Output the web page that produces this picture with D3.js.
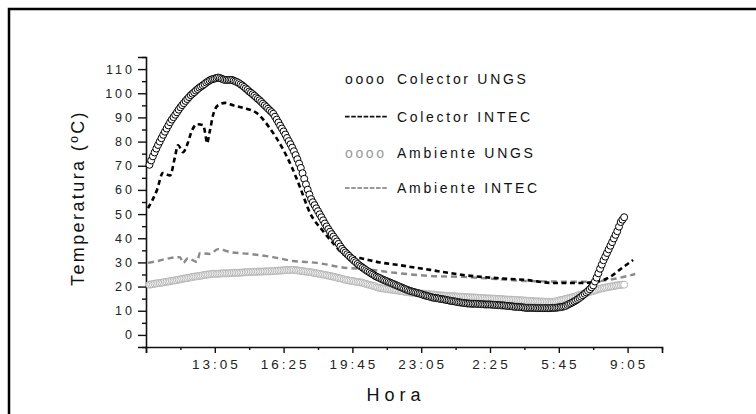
<!DOCTYPE html>
<html><head><meta charset="utf-8">
<script src="https://cdn.jsdelivr.net/npm/d3@7"></script>
<style>
html,body{margin:0;padding:0;background:#fff;}
svg{display:block;font-family:"Liberation Sans",Arial,sans-serif;}
</style></head>
<body>
<svg id="chart" width="756" height="414"></svg>
<script>
// ---------- DATA ----------
const axisStartClock = "9:45";
const axisEndClock = "10:45";
const xTickLabels = ["13:05","16:25","19:45","23:05","2:25","5:45","9:05"];
const yTickValues = [0,10,20,30,40,50,60,70,80,90,100,110];

// UNGS logger: samples every 5 min starting at 9:55
const ungsFirstSample = "9:55";
const ungsStepMin = 5;
const colectorUNGS = [
70.4,72.2,73.9,75.5,77.1,78.6,80,81.4,82.8,84.1,85.4,86.7,88,89.1,90.1,91.1,92.1,93.2,94.2,95.1,
95.9,96.8,97.6,98.4,99.2,99.8,100.4,101.1,101.7,102.3,102.8,103.3,103.8,104.4,104.9,105.3,105.7,105.9,106.1,106.3,
106.5,106.3,106,105.7,105.5,105.5,105.5,105.5,105.5,105.2,104.9,104.6,104.2,103.7,103.2,102.6,102,101.4,100.7,100.2,
99.6,99,98.3,97.7,97.1,96.4,95.7,95,94.3,93.6,92.9,92.2,91.5,90.3,89.1,87.9,86.6,85.4,84.2,82.9,
81.5,80.2,78.9,77.5,76,74.4,72.7,70.9,69.1,66.9,64.6,62.3,60.1,58.1,56.2,54.9,53.7,52.4,51.2,49.9,
48.7,47.4,46.1,44.9,43.8,42.7,41.7,40.7,39.7,38.7,37.7,36.6,35.6,34.8,34.1,33.4,32.7,32,31.4,30.7,
30.1,29.4,28.8,28.3,27.8,27.3,26.8,26.3,25.9,25.4,25,24.5,24.1,23.8,23.5,23.1,22.8,22.5,22.2,21.9,
21.6,21.3,21,20.7,20.4,20.1,19.8,19.5,19.2,18.9,18.6,18.3,18.1,17.9,17.7,17.5,17.3,17.1,16.9,16.6,
16.4,16.2,16,15.8,15.6,15.4,15.3,15.2,15.1,14.9,14.8,14.7,14.6,14.4,14.3,14.1,14,13.9,13.8,13.6,
13.5,13.4,13.3,13.2,13.1,13,13,12.9,12.9,12.9,12.9,12.8,12.8,12.7,12.7,12.6,12.6,12.6,12.6,12.5,
12.5,12.4,12.4,12.3,12.3,12.2,12.2,12.1,12,11.9,11.9,11.8,11.7,11.6,11.6,11.5,11.5,11.4,11.3,11.2,
11.2,11.2,11.2,11.2,11.2,11.1,11.1,11.1,11.1,11.1,11.1,11.1,11.1,11.1,11.2,11.2,11.2,11.3,11.4,11.5,
11.6,11.8,12,12.4,12.8,13.1,13.5,13.9,14.3,14.8,15.3,15.8,16.4,17,17.6,18.2,18.9,19.7,20.5,22.1,
23.7,25.5,27.4,29.1,30.9,32.4,33.9,35.4,36.9,38.4,39.9,41.4,42.9,44.8,46.7,47.7,48.7];
const ambienteUNGS = [
20.8,20.9,21,21.2,21.3,21.4,21.5,21.6,21.7,21.9,22,22.1,22.2,22.4,22.5,22.6,22.7,22.9,23,23.2,
23.3,23.4,23.5,23.7,23.8,24,24.1,24.2,24.3,24.4,24.5,24.7,24.8,24.9,25,25.1,25.2,25.3,25.3,25.3,
25.3,25.4,25.4,25.5,25.5,25.5,25.5,25.6,25.6,25.7,25.7,25.7,25.7,25.8,25.8,25.9,25.9,26,26,26.1,
26.1,26.1,26.1,26.2,26.2,26.2,26.2,26.3,26.3,26.3,26.3,26.4,26.4,26.5,26.5,26.6,26.6,26.7,26.7,26.8,
26.8,26.8,26.8,26.9,26.9,26.8,26.7,26.6,26.5,26.4,26.3,26.2,26.1,26,25.9,25.8,25.6,25.5,25.4,25.3,
25.1,25,24.8,24.7,24.5,24.4,24.2,24.1,23.9,23.7,23.5,23.4,23.2,23,22.8,22.7,22.5,22.4,22.3,22.2,
22,21.9,21.8,21.7,21.5,21.3,21.1,20.9,20.7,20.5,20.3,20.1,19.8,19.6,19.4,19.3,19.2,19.1,19,18.9,
18.8,18.7,18.6,18.5,18.4,18.3,18.2,18.1,17.9,17.8,17.7,17.6,17.5,17.5,17.4,17.3,17.2,17.2,17.1,17.1,
17,16.9,16.8,16.8,16.7,16.7,16.6,16.5,16.4,16.4,16.3,16.3,16.2,16.2,16.1,16.1,16,16,15.9,15.9,
15.8,15.8,15.7,15.7,15.6,15.6,15.6,15.5,15.5,15.5,15.4,15.4,15.3,15.3,15.2,15.2,15.1,15.1,15.1,15,
15,15,14.9,14.9,14.8,14.8,14.7,14.7,14.6,14.6,14.6,14.5,14.5,14.5,14.4,14.4,14.3,14.3,14.2,14.2,
14.1,14.1,14,14,13.9,13.9,13.9,13.8,13.8,13.8,13.7,13.7,13.7,13.6,13.6,13.7,13.8,14,14.2,14.4,
14.5,14.7,14.9,15.1,15.2,15.4,15.6,15.8,16,16.3,16.5,16.7,16.9,17.1,17.3,17.6,17.8,18,18.2,18.4,
18.6,18.9,19.1,19.3,19.4,19.6,19.7,19.9,20,20.1,20.2,20.4,20.5,20.6,20.7,20.8,20.8];

// INTEC series
const colectorINTECTimes = ["9:51","10:17","10:34","10:55","11:09","11:18","11:33","11:44","11:59","12:13",
"12:31","12:39","12:42","12:51","13:00","13:14","13:35","13:58","14:27","15:08",
"15:45","16:20","16:49","17:13","17:42","18:17","18:49","19:23","20:07","21:05",
"21:55","23:31","1:07","2:45","4:13","5:28","6:47","7:36","8:14","8:49","9:21"];
const colectorINTEC = [52.5,60,67,66,73.5,78.5,75.6,78.5,84.7,87.2,
86.8,81.8,79.3,84.7,91,95,96,95,94,91.7,
85.5,77.7,69.4,61,50.4,43.4,38,33,31.8,30,
29,26.9,24.8,23.5,22.7,21.5,21.5,22,24,27.7,31];
const ambienteINTECTimes = ["9:51","10:20","10:55","11:24","11:33","11:47","12:13","12:22","12:51","13:14",
"13:49","14:47","15:54","16:52","18:02","19:29","20:16","21:55","23:31","1:07",
"2:45","4:13","7:07","8:23","9:27"];
const ambienteINTEC = [29.8,30.6,31.8,32.2,29.8,31.8,30.2,33.9,33.5,35.5,
34.3,33.5,32.2,30.6,29.8,27.7,27.3,25.6,24.4,24,
23.1,22.3,22,23.1,25.2];

const legendLabels = ["Colector UNGS","Colector INTEC","Ambiente UNGS","Ambiente INTEC"];

// ---------- HELPERS ----------
const toMin = s => { const [h,m] = s.split(":").map(Number); return h*60+m; };
const origin = toMin(axisStartClock);
const elapsed = s => (toMin(s) - origin + 1440) % 1440;
const endElapsed = elapsed(axisEndClock) + 1440;

const svg = d3.select("#chart");
// outer frame
svg.append("rect").attr("x",9).attr("y",9).attr("width",900).attr("height",600)
  .attr("fill","none").attr("stroke","#000").attr("stroke-width",2.5);

const x = d3.scaleLinear().domain([0, endElapsed]).range([146, 662]);
const y = d3.scaleLinear().domain([-5, 115]).range([347, 57]);

// ---------- AXES ----------
const axisColor = "#111";
const gx = svg.append("g").attr("transform","translate(0,347)");
const majorX = d3.range(0, endElapsed + 1, 200);
const minorX = d3.range(100, endElapsed + 1, 200);
gx.call(d3.axisBottom(x).tickValues(majorX).tickSize(6).tickFormat(""));
gx.append("g").call(d3.axisBottom(x).tickValues(minorX).tickSize(3).tickFormat(""));
gx.selectAll("path.domain").attr("stroke",axisColor).attr("stroke-width",1.6);
gx.selectAll(".tick line").attr("stroke",axisColor).attr("stroke-width",1.4);
gx.selectAll("g > g path.domain").remove();

const gy = svg.append("g").attr("transform","translate(146,0)");
gy.call(d3.axisLeft(y).tickValues(yTickValues).tickSize(8).tickFormat(""));
gy.append("g").call(d3.axisLeft(y).tickValues(d3.range(-5, 116, 10)).tickSize(4).tickFormat(""));
gy.selectAll("path.domain").attr("stroke",axisColor).attr("stroke-width",1.6);
gy.selectAll(".tick line").attr("stroke",axisColor).attr("stroke-width",1.4);
gy.selectAll("g > g path.domain").remove();

// tick labels
svg.append("g").selectAll("text").data(xTickLabels).join("text")
  .attr("x", d => x(elapsed(d)) + 1.5).attr("y", 369)
  .attr("text-anchor","middle").attr("font-size",13.5).attr("letter-spacing",3)
  .attr("fill","#222").text(d => d);
svg.append("g").selectAll("text").data(yTickValues).join("text")
  .attr("x", 135).attr("y", d => y(d) + 4.5)
  .attr("text-anchor","end").attr("font-size",12.5).attr("letter-spacing",3)
  .attr("fill","#222").text(d => d);

// axis titles
svg.append("text").attr("x", 396).attr("y", 401).attr("text-anchor","middle")
  .attr("font-size",18).attr("letter-spacing",5).attr("fill","#111").text("Hora");
svg.append("text").attr("transform","translate(84,198) rotate(-90)")
  .attr("text-anchor","middle").attr("font-size",18).attr("letter-spacing",2.4)
  .attr("fill","#111").text("Temperatura (ºC)");

// ---------- SERIES ----------
const t0 = elapsed(ungsFirstSample);
const ungsCol = colectorUNGS.map((v,i) => ({t: t0 + i*ungsStepMin, v}));
const ungsAmb = ambienteUNGS.map((v,i) => ({t: t0 + i*ungsStepMin, v}));
const intecCol = colectorINTEC.map((v,i) => ({t: elapsed(colectorINTECTimes[i]), v}));
const intecAmb = ambienteINTEC.map((v,i) => ({t: elapsed(ambienteINTECTimes[i]), v}));

const line = d3.line().x(d => x(d.t)).y(d => y(d.v)).curve(d3.curveMonotoneX);

svg.append("g").selectAll("circle").data(ungsAmb).join("circle")
  .attr("cx", d => x(d.t)).attr("cy", d => y(d.v)).attr("r", 3.5)
  .attr("fill","#fff").attr("stroke","#b4b4b4").attr("stroke-width",1);

svg.append("path").datum(intecAmb).attr("d", line).attr("fill","none")
  .attr("stroke","#8a8a8a").attr("stroke-width",2.4).attr("stroke-dasharray","6,4");

svg.append("path").datum(intecCol).attr("d", line).attr("fill","none")
  .attr("stroke","#000").attr("stroke-width",2.6).attr("stroke-dasharray","5,3.5");

svg.append("g").selectAll("circle").data(ungsCol).join("circle")
  .attr("cx", d => x(d.t)).attr("cy", d => y(d.v)).attr("r", 3.5)
  .attr("fill","#fff").attr("stroke","#000").attr("stroke-width",1);

// ---------- LEGEND ----------
const legendY = [84, 121.7, 158.3, 193];
const lg = svg.append("g");
legendLabels.forEach((lab, i) => {
  const by = legendY[i];
  if (i % 2 === 0) {
    lg.append("text").attr("x",345).attr("y",by).attr("font-size",14).attr("letter-spacing",2.6)
      .attr("fill", i === 0 ? "#111" : "#999").text("oooo");
  } else {
    lg.append("line").attr("x1",345).attr("x2",388).attr("y1",by-5).attr("y2",by-5)
      .attr("stroke", i === 1 ? "#111" : "#999").attr("stroke-width",1.8).attr("stroke-dasharray","4.6,1.6");
  }
  lg.append("text").attr("x",397).attr("y",by).attr("font-size",14).attr("letter-spacing",2.7)
    .attr("fill","#111").text(lab);
});
</script>
</body></html>
